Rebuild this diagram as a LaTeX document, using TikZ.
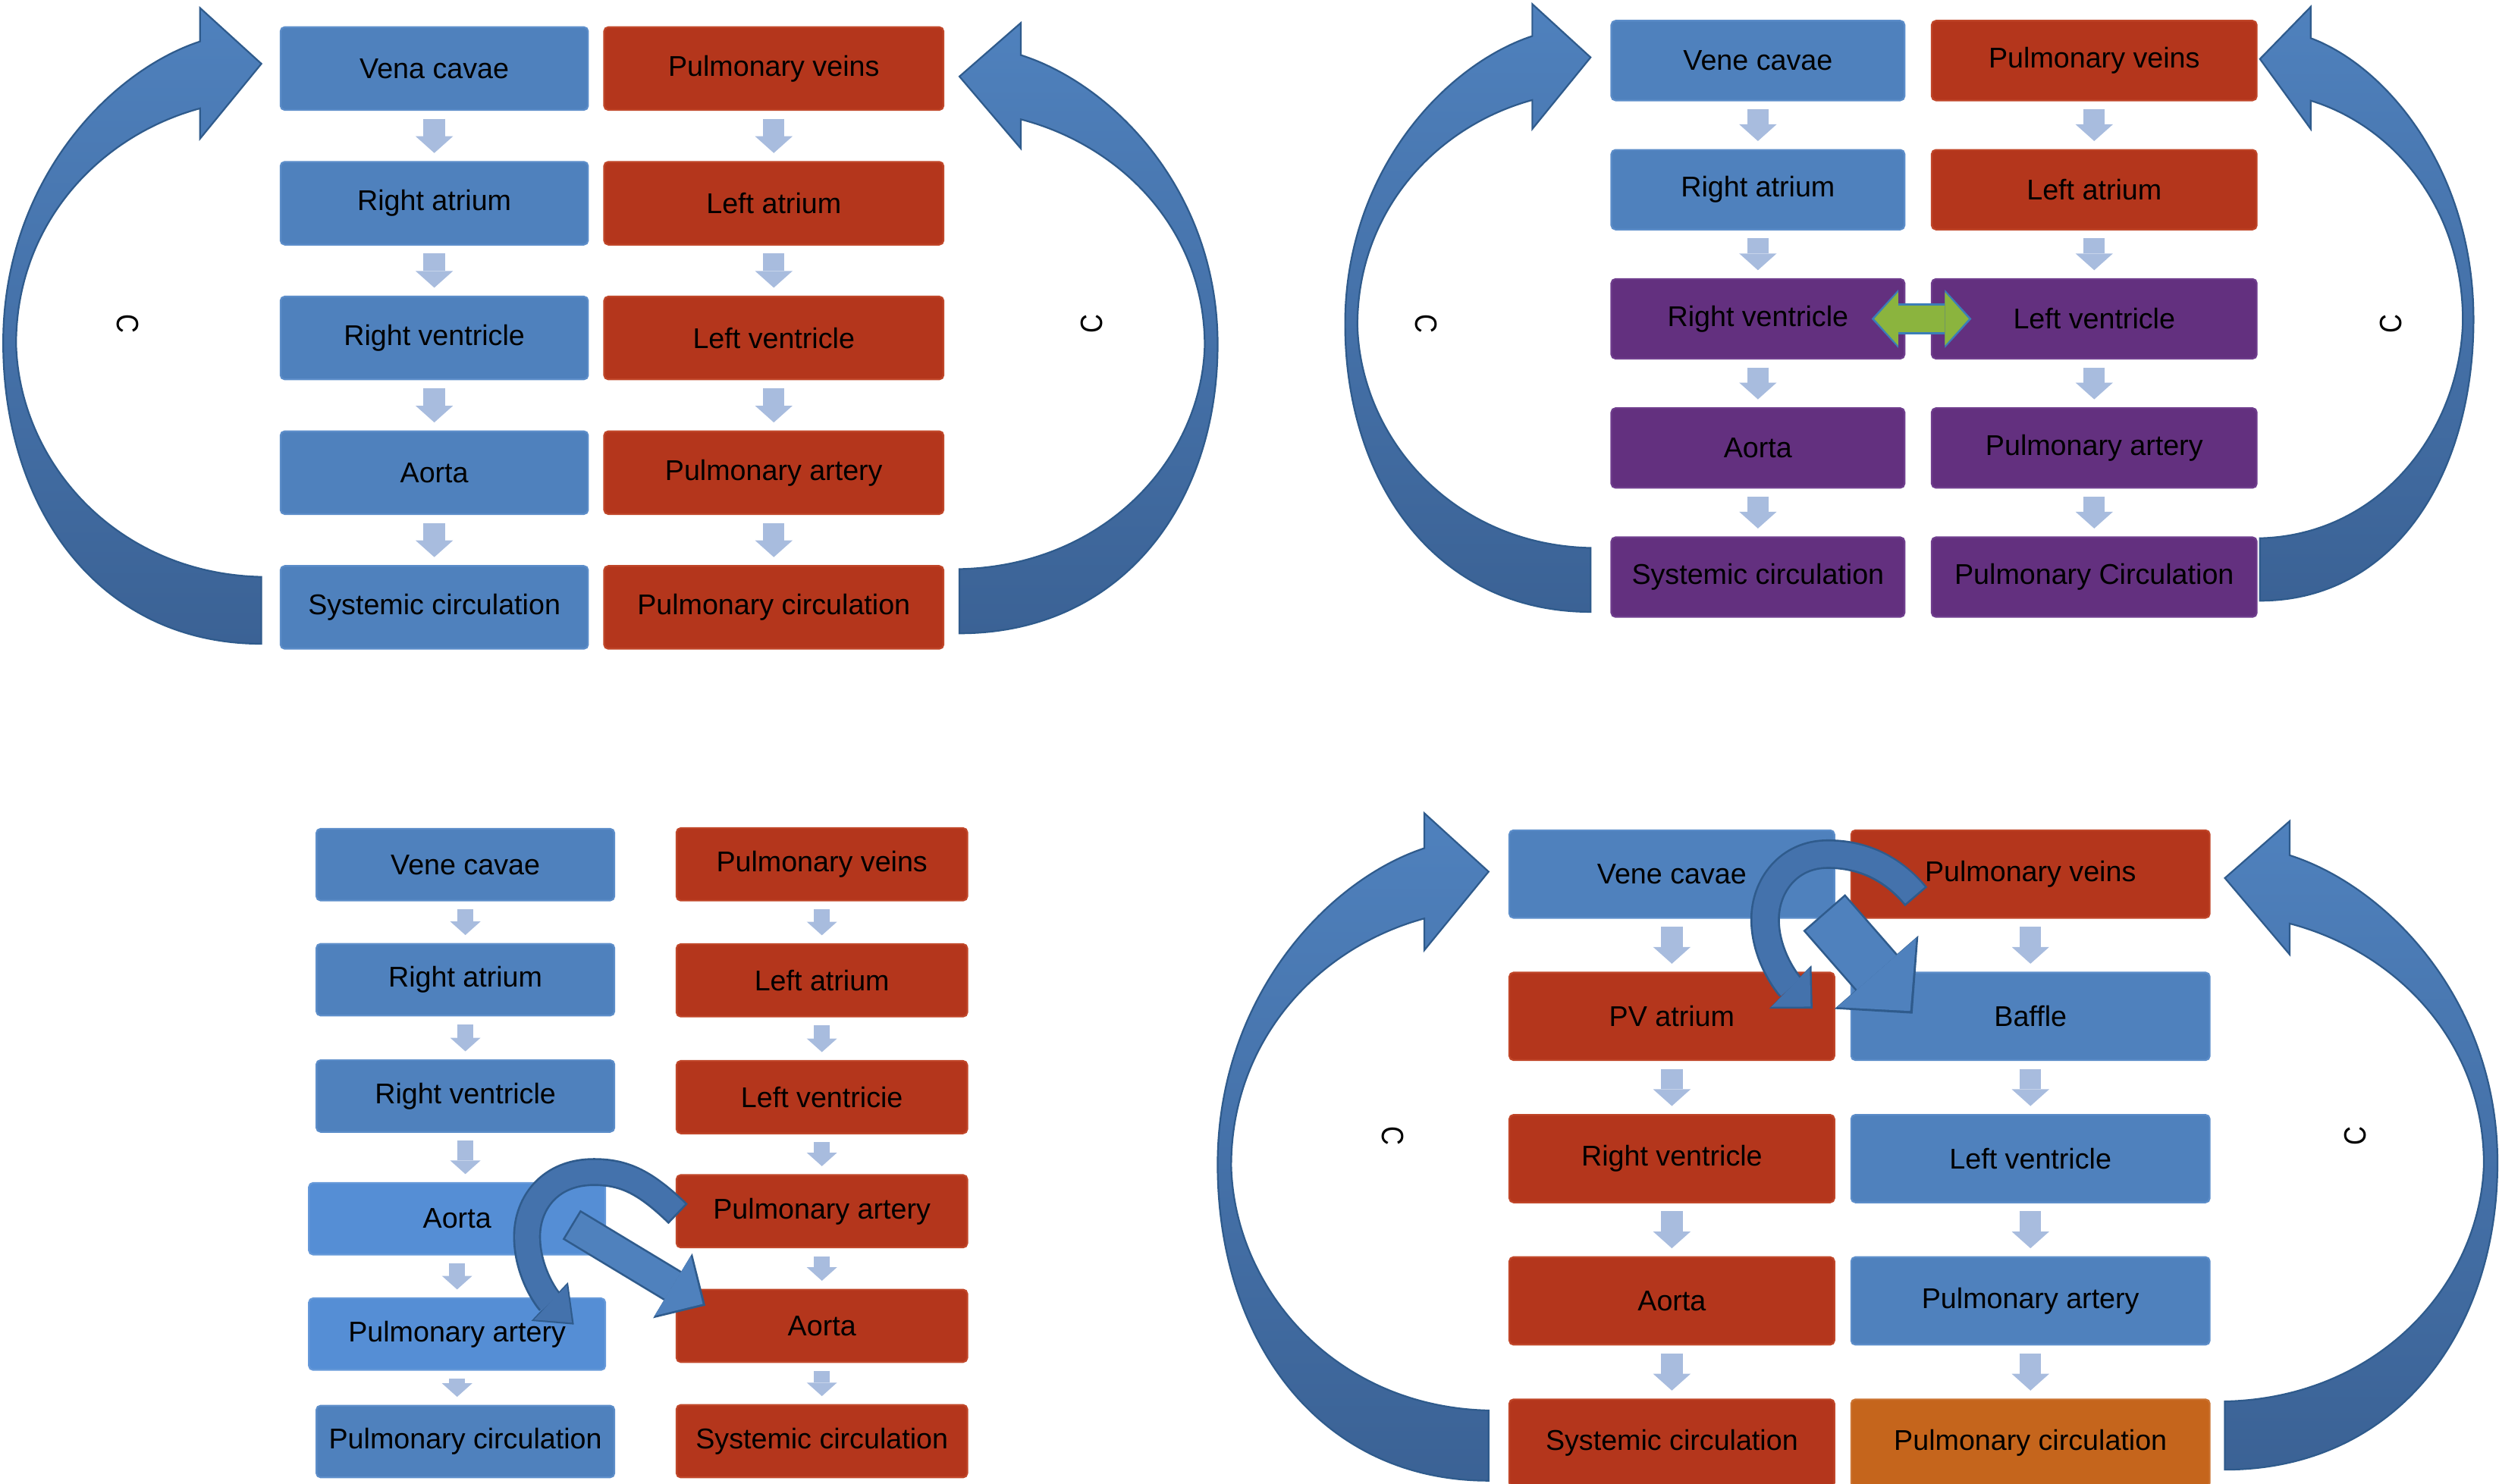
\documentclass[tikz,border=0pt]{standalone}
\usepackage{fontspec}
\setmainfont{Liberation Sans}
\usepackage{tikz}
\usetikzlibrary{arrows.meta,positioning,calc}
\definecolor{CellBlue}{HTML}{4F81BD}
\definecolor{CellBlueEdge}{HTML}{5C8DC9}
\definecolor{CellLight}{HTML}{558ED5}
\definecolor{CellRed}{HTML}{B4361C}
\definecolor{CellRedEdge}{HTML}{C04629}
\definecolor{CellPurple}{HTML}{63307F}
\definecolor{CellPurpleEdge}{HTML}{6F3D8D}
\definecolor{CellOrange}{HTML}{C5651C}
\definecolor{StepBlue}{HTML}{A8BCDE}
\definecolor{SideTop}{HTML}{4F81BD}
\definecolor{SideBottom}{HTML}{3B6295}
\definecolor{SideEdge}{HTML}{2F5B8C}
\definecolor{CurveBlue}{HTML}{4472AC}
\definecolor{SwapGreen}{HTML}{8BB43E}
\definecolor{SwapEdge}{HTML}{3B7EB8}
\tikzset{
  boxcell/.style={rectangle,rounded corners=1.5pt,align=center,inner sep=0pt,
              line width=0.6pt,font=\fontsize{10.2}{12}\selectfont},
  bluecell/.style={boxcell,fill=CellBlue,draw=CellBlueEdge},
  lightcell/.style={boxcell,fill=CellLight,draw=CellLight!90!white},
  redcell/.style={boxcell,fill=CellRed,draw=CellRedEdge},
  purplecell/.style={boxcell,fill=CellPurple,draw=CellPurpleEdge},
  orangecell/.style={boxcell,fill=CellOrange,draw=CellOrange!90!white},
  flowdown/.style={draw=StepBlue,line width=0.27cm,
              -{Triangle[width=0.47cm,length=0.21cm,line width=0pt]},
              shorten <=0.1cm,shorten >=0.1cm},
  smallflow/.style={draw=StepBlue,line width=0.2cm,
              -{Triangle[width=0.38cm,length=0.17cm,line width=0pt]},
              shorten <=0.1cm,shorten >=0.1cm},
  sidearrow/.style={draw=SideEdge,line width=0.6pt,top color=SideTop,bottom color=SideBottom},
  blockline/.style n args={4}{draw=#4,line width=#1,
              -{Triangle[width=#2,length=#3,line width=0pt]}},
  swapline/.style n args={4}{draw=#4,line width=#1,
              {Triangle[width=#2,length=#3,line width=0pt]}-{Triangle[width=#2,length=#3,line width=0pt]}},
  clabel/.style={font=\fontsize{11}{13}\selectfont,inner sep=0pt}
}
% outline of the big return arrow, tip at the origin
\newcommand{\sidecurve}{(0,364) .. controls (-100,364) and (-160,280) .. (-160,175)
  .. controls (-160,75) and (-95,5) .. (-38,-14) -- (-38,-35) -- (0,0) -- (-38,47) -- (-38,28)
  .. controls (-100,45) and (-152,100) .. (-152,176) .. controls (-150,250) and (-90,320) .. (0,322) -- cycle}

\begin{document}
\begin{tikzpicture}[x=0.02cm,y=-0.02cm]
  \useasboundingbox (0,0) rectangle (1568,931);

  % normal heart
  \begin{scope}[lcol/.style={minimum width=3.86cm,minimum height=1.04cm},
                rcol/.style={minimum width=4.26cm,minimum height=1.04cm}]
    \node[bluecell,lcol] (vcA) at (272.5,43) {Vena cavae};
    \node[bluecell,lcol,below=0.63cm of vcA] (raA) {Right atrium};
    \node[bluecell,lcol,below=0.63cm of raA] (rvA) {Right ventricle};
    \node[bluecell,lcol,below=0.63cm of rvA] (aoA) {Aorta};
    \node[bluecell,lcol,below=0.63cm of aoA] (scA) {Systemic circulation};
    \node[redcell,rcol,right=0.18cm of vcA] (pvA) {Pulmonary veins};
    \node[redcell,rcol,below=0.63cm of pvA] (laA) {Left atrium};
    \node[redcell,rcol,below=0.63cm of laA] (lvA) {Left ventricle};
    \node[redcell,rcol,below=0.63cm of lvA] (paA) {Pulmonary artery};
    \node[redcell,rcol,below=0.63cm of paA] (pcA) {Pulmonary circulation};
  \end{scope}

  % mixing at ventricle level
  \begin{scope}[lcol/.style={minimum width=3.68cm,minimum height=1cm},
                rcol/.style={minimum width=4.08cm,minimum height=1cm}]
    \node[bluecell,lcol] (vcB) at (1103,38) {Vene cavae};
    \node[bluecell,lcol,below=0.6cm of vcB] (raB) {Right atrium};
    \node[purplecell,lcol,below=0.6cm of raB] (rvB) {Right ventricle};
    \node[purplecell,lcol,below=0.6cm of rvB] (aoB) {Aorta};
    \node[purplecell,lcol,below=0.6cm of aoB] (scB) {Systemic circulation};
    \node[redcell,rcol,right=0.32cm of vcB] (pvB) {Pulmonary veins};
    \node[redcell,rcol,below=0.6cm of pvB] (laB) {Left atrium};
    \node[purplecell,rcol,below=0.6cm of laB] (lvB) {Left ventricle};
    \node[purplecell,rcol,below=0.6cm of lvB] (paB) {Pulmonary artery};
    \node[purplecell,rcol,below=0.6cm of paB] (pcB) {Pulmonary Circulation};
  \end{scope}

  % transposed great arteries
  \begin{scope}[lcol/.style={minimum width=3.74cm,minimum height=0.9cm},
                mcol/.style={minimum width=3.72cm,minimum height=0.9cm},
                rcol/.style={minimum width=3.65cm,minimum height=0.91cm}]
    \node[bluecell,lcol] (vcC) at (292,542.6) {Vene cavae};
    \node[bluecell,lcol] (raC) at (292,614.8) {Right atrium};
    \node[bluecell,lcol] (rvC) at (292,687.8) {Right ventricle};
    \node[lightcell,mcol] (aoC) at (286.8,764.8) {Aorta};
    \node[lightcell,mcol] (paC) at (286.8,837.2) {Pulmonary artery};
    \node[bluecell,lcol] (pcC) at (292,904.6) {Pulmonary circulation};
    \node[redcell,rcol] (pvC) at (515.7,542.4) {Pulmonary veins};
    \node[redcell,rcol] (laC) at (515.7,615.2) {Left atrium};
    \node[redcell,rcol] (lvC) at (515.7,688.5) {Left ventricie};
    \node[redcell,rcol] (apC) at (515.7,760.1) {Pulmonary artery};
    \node[redcell,rcol] (oaC) at (515.7,832) {Aorta};
    \node[redcell,rcol] (scC) at (515.7,904.4) {Systemic circulation};
  \end{scope}

  % atrial switch
  \begin{scope}[lcol/.style={minimum width=4.08cm,minimum height=1.1cm},
                rcol/.style={minimum width=4.5cm,minimum height=1.1cm}]
    \node[bluecell,lcol] (vcD) at (1049,548.5) {Vene cavae};
    \node[redcell,lcol,below=0.665cm of vcD] (atD) {PV atrium};
    \node[redcell,lcol,below=0.665cm of atD] (rvD) {Right ventricle};
    \node[redcell,lcol,below=0.665cm of rvD] (aoD) {Aorta};
    \node[redcell,lcol,below=0.665cm of aoD] (scD) {Systemic circulation};
    \node[redcell,rcol,right=0.19cm of vcD] (pvD) {Pulmonary veins};
    \node[bluecell,rcol,below=0.665cm of pvD] (bfD) {Baffle};
    \node[bluecell,rcol,below=0.665cm of bfD] (lvD) {Left ventricle};
    \node[bluecell,rcol,below=0.665cm of lvD] (paD) {Pulmonary artery};
    \node[orangecell,rcol,below=0.665cm of paD] (pcD) {Pulmonary circulation};
  \end{scope}

  \foreach \a/\b in {vcA/raA,raA/rvA,rvA/aoA,aoA/scA,pvA/laA,laA/lvA,lvA/paA,paA/pcA,
                     vcB/raB,raB/rvB,rvB/aoB,aoB/scB,pvB/laB,laB/lvB,lvB/paB,paB/pcB,
                     vcD/atD,atD/rvD,rvD/aoD,aoD/scD,pvD/bfD,bfD/lvD,lvD/paD,paD/pcD}
    \draw[flowdown] (\a.south) -- (\a.south |- \b.north);
  \foreach \a/\b in {vcC/raC,raC/rvC,rvC/aoC,aoC/paC,paC/pcC,
                     pvC/laC,laC/lvC,lvC/apC,apC/oaC,oaC/scC}
    \draw[smallflow] (\a.south) -- (\a.south |- \b.north);

  % return arrows
  \path[sidearrow,shift={(164,40)},xscale=1.0125] \sidecurve;
  \path[sidearrow,shift={(602,48)},xscale=-1.0125,yscale=0.96] \sidecurve;
  \path[sidearrow,shift={(998,36)},xscale=0.9625,yscale=0.956] \sidecurve;
  \path[sidearrow,shift={(1418,37)},xscale=-0.8375,yscale=0.934] \sidecurve;
  \path[sidearrow,shift={(934,547)},xscale=1.0625,yscale=1.05] \sidecurve;
  \path[sidearrow,shift={(1396,551)},xscale=-1.069,yscale=1.02] \sidecurve;

  \node[clabel,rotate=-90] (cA1) at (80,203) {\scalebox{0.85}[1]{C}};
  \node[clabel,rotate=90] (cA2) at (685,203) {\scalebox{0.85}[1]{C}};
  \node[clabel,rotate=-90] (cB1) at (895,203) {\scalebox{0.85}[1]{C}};
  \node[clabel,rotate=90] (cB2) at (1500,203) {\scalebox{0.85}[1]{C}};
  \node[clabel,rotate=-90] (cD1) at (874,713) {\scalebox{0.85}[1]{C}};
  \node[clabel,rotate=90] (cD2) at (1478,713) {\scalebox{0.85}[1]{C}};

  % shunt between the ventricles
  \draw[swapline={0.386cm}{0.73cm}{0.334cm}{SwapEdge},shorten <=-0.424cm,shorten >=-0.51cm] (rvB.east) -- (lvB.west);
  \draw[swapline={0.338cm}{0.67cm}{0.30cm}{SwapGreen},shorten <=-0.39cm,shorten >=-0.475cm] (rvB.east) -- (lvB.west);

  % swapped arteries
  \coordinate (bendC0) at (425.5,761.8);
  \coordinate (bendC1) at (360.1,831.2);
  \coordinate (lineC0) at (358.5,768.5);
  \coordinate (lineC1) at (442.6,819.3);
  \draw[blockline={0.35cm}{0.67cm}{0.42cm}{SideEdge}] (bendC0) .. controls (405,742) and (392,735.5) .. (372.6,735.5)
    .. controls (345,735.5) and (330.7,755) .. (330.7,776) .. controls (330.7,798) and (343,815) .. (bendC1);
  \draw[blockline={0.30cm}{0.60cm}{0.37cm}{CurveBlue},shorten <=0.025cm,shorten >=0.035cm] (bendC0) .. controls (405,742) and (392,735.5) .. (372.6,735.5)
    .. controls (345,735.5) and (330.7,755) .. (330.7,776) .. controls (330.7,798) and (343,815) .. (bendC1);
  \draw[blockline={0.43cm}{0.95cm}{0.48cm}{SideEdge}] (lineC0) -- (lineC1);
  \draw[blockline={0.38cm}{0.88cm}{0.44cm}{CellBlue},shorten <=0.025cm,shorten >=0.04cm] (lineC0) -- (lineC1);

  % swapped venous return
  \coordinate (bendD0) at (1202.3,562.7);
  \coordinate (bendD1) at (1137.3,632.9);
  \coordinate (lineD0) at (1144.5,572.6);
  \coordinate (lineD1) at (1200,636.1);
  \draw[blockline={0.37cm}{0.76cm}{0.39cm}{SideEdge}] (bendD0) .. controls (1185,542) and (1165,536) .. (1146.8,536)
    .. controls (1122,536) and (1107.5,556) .. (1107.5,577) .. controls (1107.5,600) and (1122,618) .. (bendD1);
  \draw[blockline={0.32cm}{0.69cm}{0.35cm}{CurveBlue},shorten <=0.025cm,shorten >=0.035cm] (bendD0) .. controls (1185,542) and (1165,536) .. (1146.8,536)
    .. controls (1122,536) and (1107.5,556) .. (1107.5,577) .. controls (1107.5,600) and (1122,618) .. (bendD1);
  \draw[blockline={0.70cm}{1.40cm}{0.69cm}{SideEdge}] (lineD0) -- (lineD1);
  \draw[blockline={0.65cm}{1.32cm}{0.64cm}{CellBlue},shorten <=0.025cm,shorten >=0.045cm] (lineD0) -- (lineD1);
\end{tikzpicture}
\end{document}
